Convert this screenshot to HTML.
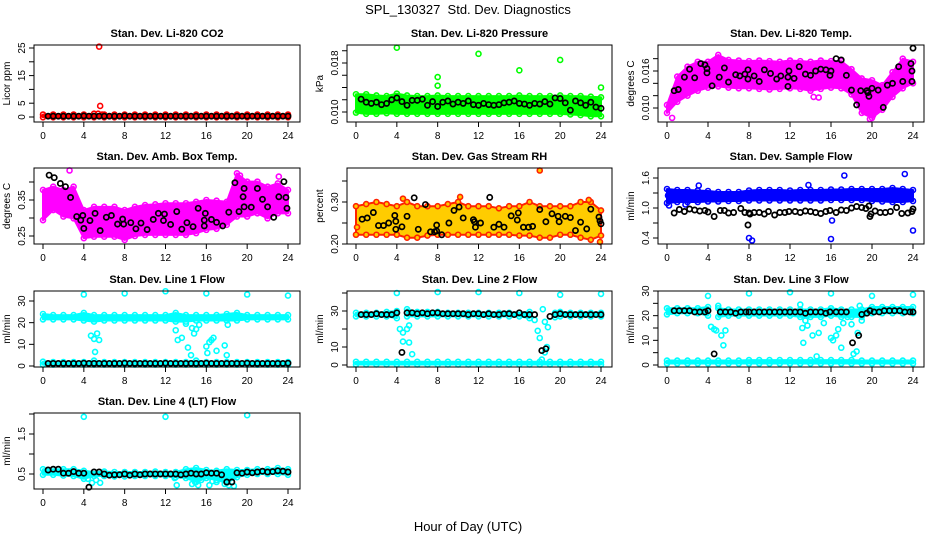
<!DOCTYPE html>
<html><head><meta charset="utf-8">
<style>
html,body{margin:0;padding:0;background:#fff;}
svg{display:block;font-family:"Liberation Sans",Arial,sans-serif;}
</style></head>
<body>
<svg id="chart" width="936" height="540" viewBox="0 0 936 540" xmlns="http://www.w3.org/2000/svg">
<rect width="936" height="540" fill="#fff"/>
<text x="468" y="14" font-size="13" text-anchor="middle" style="white-space:pre">SPL_130327  Std. Dev. Diagnostics</text>
<text x="468" y="531" font-size="13" text-anchor="middle">Hour of Day (UTC)</text>
</svg>
<script>
// ---------- data ----------
const HOURS=[0,1,2,3,4,5,6,7,8,9,10,11,12,13,14,15,16,17,18,19,20,21,22,23,24];
const HH=[0.5,1,1.5,2,2.5,3,3.5,4,4.5,5,5.5,6,6.5,7,7.5,8,8.5,9,9.5,10,10.5,11,11.5,12,12.5,13,13.5,14,14.5,15,15.5,16,16.5,17,17.5,18,18.5,19,19.5,20,20.5,21,21.5,22,22.5,23,23.5,24];

// CO2
const co2Hi=[0.9,0.9,0.9,0.9,0.9,1.2,0.9,0.9,0.9,0.9,0.9,0.9,0.9,0.9,0.9,0.9,0.9,0.9,0.9,0.9,0.9,0.9,0.9,0.9,0.9];
const co2Lo=[-0.1,-0.1,-0.1,-0.1,-0.1,-0.1,-0.1,-0.1,-0.1,-0.1,-0.1,-0.1,-0.1,-0.1,-0.1,-0.1,-0.1,-0.1,-0.1,-0.1,-0.1,-0.1,-0.1,-0.1,-0.1];
const co2OutX=[5.5,5.6,5.4,5.8];
const co2OutY=[25.5,4,1.2,0.9];
const co2Black=[0.3,0.3,0.3,0.3,0.3,0.3,0.3,0.4,0.3,0.3,0.3,0.3,0.3,0.3,0.3,0.4,0.3,0.3,0.3,0.3,0.3,0.3,0.3,0.3,0.3,0.3,0.3,0.3,0.3,0.3,0.3,0.3,0.3,0.3,0.3,0.3,0.3,0.3,0.3,0.3,0.3,0.3,0.3,0.3,0.3,0.3,0.3,0.3];

// Pressure
const prHi=[0.0129,0.0129,0.0127,0.0126,0.0130,0.0127,0.0126,0.0126,0.0127,0.0126,0.0126,0.0126,0.0126,0.0126,0.0126,0.0126,0.0127,0.0126,0.0126,0.0126,0.0127,0.0126,0.0126,0.0125,0.0124];
const prLo=[0.0099,0.0097,0.0097,0.0098,0.0097,0.0097,0.0097,0.0097,0.0097,0.0097,0.0097,0.0097,0.0097,0.0097,0.0097,0.0097,0.0097,0.0097,0.0097,0.0097,0.0097,0.0096,0.0095,0.0093,0.0093];
const prOutX=[4,8,8,12,16,20,24];
const prOutY=[0.0205,0.0157,0.0143,0.0195,0.0168,0.0185,0.0140];
const prBlack=[0.0121,0.0116,0.0114,0.0116,0.0112,0.0114,0.0120,0.0123,0.0117,0.0111,0.0119,0.0119,0.0121,0.0111,0.0117,0.0109,0.0116,0.0118,0.0113,0.0116,0.0114,0.0118,0.0112,0.0111,0.0114,0.0112,0.0111,0.0112,0.0115,0.0116,0.0118,0.0114,0.0113,0.0111,0.0114,0.0113,0.0117,0.0113,0.0123,0.0122,0.0115,0.0103,0.0118,0.0115,0.0111,0.0116,0.0108,0.0106];

// Li-820 temp
const tHi=[0.0105,0.0151,0.0167,0.0175,0.0175,0.0186,0.0178,0.0177,0.0176,0.0177,0.0176,0.0175,0.0177,0.0176,0.0175,0.0177,0.0176,0.0176,0.0163,0.0148,0.0145,0.0137,0.0158,0.0180,0.0175];
const tLo=[0.0092,0.0110,0.0120,0.0128,0.0133,0.0135,0.0133,0.0132,0.0132,0.0131,0.0130,0.0131,0.0132,0.0131,0.0128,0.0131,0.0133,0.0132,0.0122,0.0092,0.0084,0.0097,0.0118,0.0132,0.0140];
const tBlackX=[0.7,1.1,1.7,2.2,2.7,3.3,3.7,3.9,3.9,4.4,5.1,5.6,6.0,6.7,7.1,7.6,7.9,7.9,8.5,9.0,9.5,10.1,10.7,11.1,11.8,11.9,11.8,12.4,12.9,13.5,14.0,14.5,15.0,15.5,15.9,16.0,16.5,17.0,17.5,18.0,18.5,18.9,19.5,19.6,19.7,20.0,20.6,21.1,21.5,22.0,22.6,23.0,23.8,23.9,23.9,24.0];
const tBlackY=[0.0128,0.0130,0.0150,0.0163,0.0149,0.0172,0.0170,0.0164,0.0157,0.0136,0.0150,0.0165,0.0142,0.0154,0.0152,0.0155,0.0162,0.0147,0.0152,0.0143,0.0162,0.0156,0.0147,0.0152,0.0150,0.0160,0.0135,0.0148,0.0167,0.0155,0.0153,0.0160,0.0163,0.0162,0.0153,0.0160,0.0180,0.0178,0.0153,0.0129,0.0105,0.0128,0.0128,0.0125,0.0119,0.0132,0.0129,0.0101,0.0137,0.0140,0.0167,0.0143,0.0172,0.0160,0.0143,0.0197];
const tOutX=[0.5,19.8,20.1,14.3,14.8];
const tOutY=[0.0084,0.0082,0.0088,0.0118,0.0117];

// Amb box temp
const aHi=[0.378,0.387,0.378,0.387,0.322,0.331,0.331,0.331,0.322,0.331,0.336,0.338,0.341,0.341,0.341,0.345,0.350,0.348,0.345,0.424,0.401,0.401,0.387,0.396,0.378];
const aLo=[0.294,0.322,0.304,0.299,0.244,0.248,0.248,0.248,0.239,0.250,0.253,0.253,0.253,0.253,0.253,0.258,0.267,0.270,0.281,0.304,0.304,0.313,0.299,0.313,0.313];
const aOutX=[2.6,19.3,23.1];
const aOutY=[0.432,0.418,0.415];
const aBlackX=[0.6,1.1,1.7,2.2,2.7,3.3,3.7,3.9,4.0,4.6,5.1,5.6,6.2,6.7,7.3,7.8,7.9,8.6,9.1,9.6,10.2,10.8,11.3,11.8,11.9,12.5,13.1,13.6,14.1,14.7,15.2,15.8,15.8,15.9,16.5,17.0,17.6,18.2,18.8,19.2,19.6,19.7,19.7,20.4,21.0,21.5,22.0,22.6,23.1,23.6,23.8,23.9];
const aBlackY=[0.419,0.412,0.396,0.387,0.357,0.304,0.294,0.307,0.271,0.293,0.313,0.265,0.302,0.307,0.283,0.297,0.283,0.287,0.270,0.286,0.268,0.296,0.313,0.293,0.311,0.282,0.318,0.269,0.287,0.276,0.327,0.278,0.294,0.313,0.296,0.288,0.278,0.316,0.398,0.318,0.359,0.382,0.331,0.330,0.382,0.352,0.331,0.302,0.359,0.401,0.357,0.327];

// Gas stream RH
const rhHi=[0.29,0.295,0.30,0.295,0.29,0.30,0.29,0.29,0.29,0.295,0.30,0.29,0.29,0.29,0.285,0.29,0.29,0.30,0.29,0.29,0.29,0.29,0.30,0.30,0.28];
const rhLo=[0.222,0.222,0.222,0.222,0.222,0.215,0.215,0.22,0.222,0.222,0.222,0.222,0.222,0.222,0.222,0.222,0.22,0.22,0.215,0.215,0.222,0.222,0.215,0.21,0.22];
const rhOutX=[18,4.6,10.2,22.8,23.9,0.1];
const rhOutY=[0.375,0.308,0.312,0.305,0.205,0.24];
const rhBlackX=[0.6,1.1,1.7,2.2,2.7,3.2,3.8,3.9,3.9,4.5,5.0,5.7,6.1,6.8,7.3,7.7,7.9,7.9,8.4,9.1,9.6,10.1,10.5,11.5,11.6,11.7,12.2,13.1,13.5,14.0,14.5,15.2,15.8,15.9,16.4,16.9,17.3,18.0,18.6,19.2,19.8,19.9,20.5,21.0,21.5,22.0,22.6,23.0,23.8,23.9,24.0];
const rhBlackY=[0.259,0.262,0.275,0.244,0.244,0.250,0.268,0.254,0.235,0.241,0.266,0.310,0.235,0.294,0.229,0.229,0.245,0.231,0.222,0.250,0.280,0.288,0.262,0.258,0.253,0.240,0.250,0.311,0.240,0.247,0.240,0.267,0.257,0.274,0.240,0.240,0.242,0.282,0.253,0.272,0.266,0.253,0.266,0.263,0.232,0.252,0.236,0.283,0.264,0.255,0.248];

// Sample flow
const sfHi=[1.38,1.36,1.36,1.35,1.34,1.32,1.32,1.32,1.35,1.36,1.36,1.36,1.35,1.36,1.36,1.36,1.37,1.37,1.38,1.38,1.38,1.38,1.40,1.38,1.36];
const sfLo=[1.10,1.12,1.12,1.12,1.13,1.13,1.14,1.14,1.15,1.15,1.15,1.15,1.15,1.15,1.15,1.15,1.16,1.16,1.16,1.16,1.14,1.13,1.12,1.12,1.14];
const sfOutX=[0.1,0.2,8.0,8.3,13.8,16.0,16.1,17.3,23.2,24.0,3.1,1.8];
const sfOutY=[1.25,1.05,0.40,0.35,1.46,0.38,0.75,1.65,1.68,0.55,1.45,1.07];
const sfBlackX=[0.7,1.2,1.7,2.2,2.7,3.2,3.7,4.0,4.6,5.2,5.6,6.0,6.5,7.2,7.6,7.9,8.0,8.1,8.5,9.0,9.5,9.9,10.5,11.0,11.5,11.9,12.5,13.0,13.5,14.0,14.5,15.0,15.5,15.9,16.5,17.0,17.5,18.0,18.5,19.0,19.4,19.7,19.8,19.9,20.3,20.8,21.3,21.8,22.4,22.9,23.5,23.9,24.0];
const sfBlackY=[0.90,0.97,0.93,0.98,0.96,0.94,0.95,0.92,0.83,0.95,0.95,0.90,0.91,0.99,0.91,0.66,0.90,0.88,0.91,0.91,0.88,0.93,0.86,0.91,0.91,0.93,0.93,0.91,0.94,0.93,0.91,0.89,0.93,0.95,0.91,0.96,0.95,1.00,1.03,1.01,0.99,1.04,0.83,0.88,0.94,0.91,0.91,0.93,1.01,0.89,0.90,0.93,0.98];

// Line 1 flow
const l1UpHi=[24,23.5,23.5,23.5,24.5,23.5,23.5,23.5,23.5,23.5,23.5,23.5,23.5,24.5,23.5,23.5,23.5,23.5,24,24.5,23.5,23.5,23.5,23.5,23.5];
const l1UpLo=[21.5,21.5,21.5,21.5,21,20.5,21,21,21,21,21,21,21,20.5,20.5,21,21,21,21,21,21.5,21.5,21.5,21.5,21.5];
const l1DnHi=[2,1.8,1.8,1.8,1.8,2.5,1.8,1.8,1.8,1.8,1.8,1.8,1.8,1.8,1.8,2.5,1.8,1.8,1.8,1.8,1.8,1.8,1.8,1.8,1.8];
const l1DnLo=[0.6,0.6,0.6,0.6,0.6,0.6,0.6,0.6,0.6,0.6,0.6,0.6,0.6,0.6,0.6,0.6,0.6,0.6,0.6,0.6,0.6,0.6,0.6,0.6,0.6];
const l1OutX=[4,8,12,16,20,24,4.7,5.0,5.1,5.3,5.5,13.0,13.2,13.6,14.0,14.2,14.5,14.6,14.8,15.0,15.3,16.0,16.1,16.3,16.5,16.7,17.0,17.8,18.0,18.1];
const l1OutY=[33,33.5,34.5,33.5,33,32.5,14,12.5,6.5,15,12,16.5,12,13,19.5,8.5,5,17.5,15,17,19,9,6,11,12,13,7,9.5,5,19];
const l1Black=[1.2,1.2,1.2,1.2,1.2,1.2,1.2,1.3,1.2,1.2,1.2,1.2,1.2,1.2,1.2,1.3,1.2,1.2,1.2,1.2,1.2,1.2,1.2,1.3,1.2,1.2,1.2,1.2,1.2,1.2,1.2,1.3,1.2,1.2,1.2,1.2,1.2,1.2,1.2,1.3,1.2,1.2,1.2,1.2,1.2,1.2,1.2,1.3];

// Line 2 flow
const l2aX=[0,1,2,3,4];
const l2aHi=[29,29,29,29.5,30];
const l2aLo=[27,27,27,27,26];
const l2bX=[5,6,7,8,9,10,11,12,13,14,15,16,17];
const l2bHi=[31,29.5,29.5,29.5,29,29,29,29,29,29,29,29,29.5];
const l2bLo=[27,27,27,27,27,27,27,27,27,27,27,27,26];
const l2cX=[19.5,20,21,22,23,24];
const l2cHi=[29,29.5,29,29,29,29];
const l2cLo=[26.5,27,27,27,27,27];
const l2DnHi=[1.8,1.8,1.8,1.8,1.8,1.8,1.8,1.8,1.8,1.8,1.8,1.8,1.8,1.8,1.8,1.8,1.8,1.8,1.8,1.8,1.8,1.8,1.8,1.8,1.8];
const l2DnLo=[0.3,0.3,0.3,0.3,0.3,0.3,0.3,0.3,0.3,0.3,0.3,0.3,0.3,0.3,0.3,0.3,0.3,0.3,0.3,0.3,0.3,0.3,0.3,0.3,0.3];
const l2OutX=[4,8,12,16,20,24,4.3,4.6,5.0,5.2,4.6,5.2,5.5,17.5,17.8,18.0,18.2,18.3,18.5,18.7,18.5,18.8];
const l2OutY=[40,40.5,40.5,40,39,39.5,20,18,20,22,13,12.5,6,25,19,15,3,31,24,10,7,21];
const l2BlackX=[0.5,1,1.5,2,2.5,3,3.5,4,4.5,5,5.5,6,6.5,7,7.5,8,8.5,9,9.5,10,10.5,11,11.5,12,12.5,13,13.5,14,14.5,15,15.5,16,16.5,17,17.5,18.2,18.6,19,19.5,20,20.5,21,21.5,22,22.5,23,23.5,24];
const l2BlackY=[28,28,28,28.5,28,28,28,29,7,29,29,28.5,29,28.5,29,29,28.5,28.5,28.5,28.5,28.5,28,28.5,28.5,28,28.5,28,28,28.5,28.5,28,29,28,28,28,8,9,27,28,28.5,28,28,28,28,28,28,28,28];

// Line 3 flow
const l3aX=[0,1,2,3,4];
const l3aHi=[23,23,23,23,23.5];
const l3aLo=[20.5,21,21,21,20];
const l3bX=[5,6,7,8,9,10,11,12,13,14,15,16,17,18,19,20,21,22,23,24];
const l3bHi=[23,22.5,22.5,22.5,22.5,22.5,22.5,22.5,22.5,22.5,22.5,23,22.5,22.5,22.5,23.5,23.5,23.5,23.5,23.5];
const l3bLo=[19.5,20,20,20,20,20,20,20,19.5,19.5,19.5,20,19.5,19.5,19.5,21,21,21,21,21];
const l3DnHi=[1.8,1.8,1.8,1.8,1.8,1.8,1.8,1.8,2,2,2,2,2,2,2,2,2,2,2,1.8,1.8,1.8,1.8,1.8,1.8];
const l3DnLo=[0.6,0.6,0.6,0.6,0.6,0.6,0.6,0.6,0.6,0.6,0.6,0.6,0.6,0.6,0.6,0.6,0.6,0.6,0.6,0.6,0.6,0.6,0.6,0.6,0.6];
const l3OutX=[4,8,12,16,20,24,4.3,4.6,4.8,5.0,5.3,5.5,5.7,13,13.2,13.3,13.5,13.7,14.2,14.6,14.8,15.3,16,16.2,16.5,16.7,17,17.2,17.6,18,18.2,18.5,18.6,18.8,19];
const l3OutY=[28,29,29.5,29,28,28.5,15.5,14.5,14,24,12,8,14,24.5,15,9,18,16,12,3.5,13,17,11,10,12,14.5,7,17,19.5,16.5,4.5,5.5,13,24,18];
const l3BlackX=[0.7,1.2,1.7,2.2,2.7,3.2,3.7,4.0,4.6,5.2,5.7,6.2,6.7,7.2,7.7,8.0,8.5,9.0,9.5,10,10.5,11,11.5,12,12.5,13,13.5,14,14.5,15,15.5,15.9,16.5,17,17.5,18.1,18.7,19,19.5,19.8,20.2,20.7,21.2,21.7,22.2,22.7,23.2,23.7,24];
const l3BlackY=[22,22,22,22,21.5,21.5,21.5,22,4.5,21.5,21.5,21.5,21,21.5,21.5,21.5,21.5,21.5,21.5,21.5,21.5,21.5,21.5,21.5,21.5,21.5,21,21.5,21.5,21.5,21,21.5,21.5,21.5,21.5,9,12,20.5,21,22,21.5,21.5,22,22,22,22,21.5,21.5,21.5];

// Line 4 flow
const l4Hi=[0.62,0.62,0.62,0.62,0.58,0.55,0.56,0.55,0.55,0.55,0.55,0.56,0.55,0.55,0.62,0.65,0.60,0.58,0.62,0.60,0.60,0.62,0.62,0.65,0.62];
const l4Lo=[0.48,0.48,0.46,0.45,0.38,0.45,0.45,0.44,0.44,0.45,0.45,0.45,0.45,0.42,0.40,0.30,0.40,0.35,0.28,0.42,0.48,0.50,0.50,0.50,0.48];
const l4OutX=[4,12,20,4.4,4.8,5.2,5.6,13.1,14.6,14.9,15.2,15.5,16.3,16.6,17.0,17.8,18.2,18.7,12.9];
const l4OutY=[1.93,1.93,1.97,0.38,0.28,0.35,0.28,0.22,0.25,0.30,0.22,0.35,0.22,0.32,0.30,0.25,0.22,0.20,0.40];
const l4Black=[0.60,0.62,0.62,0.52,0.52,0.56,0.52,0.52,0.17,0.55,0.55,0.50,0.47,0.48,0.48,0.50,0.47,0.50,0.48,0.50,0.50,0.50,0.50,0.50,0.50,0.50,0.48,0.50,0.52,0.50,0.50,0.53,0.52,0.52,0.48,0.30,0.30,0.53,0.52,0.55,0.53,0.55,0.57,0.55,0.56,0.58,0.57,0.55];

// ---------- rendering ----------
const NS="http://www.w3.org/2000/svg";
const svg=document.getElementById('chart');
function mk(tag,attrs,parent){const e=document.createElementNS(NS,tag);for(const k in attrs)e.setAttribute(k,attrs[k]);(parent||svg).appendChild(e);return e;}

const COLS=[{l:34,r:300,p0:43,p24:288},{l:347,r:612,p0:356,p24:601},{l:658,r:924,p0:667,p24:913}];
const ROWS=[{t:45,b:122},{t:168,b:244},{t:291,b:367},{t:413,b:489}];

const panels=[
 {key:'co2',col:0,row:0,title:'Stan. Dev. Li-820 CO2',ylab:'Licor ppm',vA:0,pA:117,vB:25,pB:48,ticks:[0,5,10,15,20,25],labels:[[0,'0'],[5,'5'],[15,'15'],[25,'25']],color:'#ff0000',
  bands:[{x:HOURS,hi:co2Hi,lo:co2Lo}],outX:co2OutX,outY:co2OutY,bx:HH,by:co2Black},
 {key:'pressure',col:1,row:0,title:'Stan. Dev. Li-820 Pressure',ylab:'kPa',vA:0.010,pA:112,vB:0.018,pB:63,ticks:[0.010,0.012,0.014,0.016,0.018,0.020],labels:[[0.010,'0.010'],[0.018,'0.018']],color:'#00ff00',
  bands:[{x:HOURS,hi:prHi,lo:prLo}],outX:prOutX,outY:prOutY,bx:HH,by:prBlack},
 {key:'li820-temp',col:2,row:0,title:'Stan. Dev. Li-820 Temp.',ylab:'degrees C',vA:0.010,pA:108,vB:0.016,pB:71,ticks:[0.010,0.012,0.014,0.016,0.018],labels:[[0.010,'0.010'],[0.016,'0.016']],color:'#ff00ff',
  bands:[{x:HOURS,hi:tHi,lo:tLo}],outX:tOutX,outY:tOutY,bx:tBlackX,by:tBlackY},
 {key:'amb-box-temp',col:0,row:1,title:'Stan. Dev. Amb. Box Temp.',ylab:'degrees C',vA:0.25,pA:236,vB:0.35,pB:200,ticks:[0.25,0.30,0.35,0.40],labels:[[0.25,'0.25'],[0.35,'0.35']],color:'#ff00ff',
  bands:[{x:HOURS,hi:aHi,lo:aLo}],outX:aOutX,outY:aOutY,bx:aBlackX,by:aBlackY},
 {key:'gas-rh',col:1,row:1,title:'Stan. Dev. Gas Stream RH',ylab:'percent',vA:0.20,pA:244,vB:0.30,pB:202,ticks:[0.20,0.25,0.30,0.35],labels:[[0.20,'0.20'],[0.30,'0.30']],color:'#ff2200',fill:'#ffcc00',
  bands:[{x:HOURS,hi:rhHi,lo:rhLo}],outX:rhOutX,outY:rhOutY,bx:rhBlackX,by:rhBlackY},
 {key:'sample-flow',col:2,row:1,title:'Stan. Dev. Sample Flow',ylab:'ml/min',vA:1.0,pA:208,vB:1.6,pB:178,ticks:[0.4,0.7,1.0,1.3,1.6],labels:[[0.4,'0.4'],[1.0,'1.0'],[1.6,'1.6']],color:'#0000ff',
  bands:[{x:HOURS,hi:sfHi,lo:sfLo}],outX:sfOutX,outY:sfOutY,bx:sfBlackX,by:sfBlackY},
 {key:'line1-flow',col:0,row:2,title:'Stan. Dev. Line 1 Flow',ylab:'ml/min',vA:0,pA:366,vB:30,pB:301,ticks:[0,10,20,30],labels:[[0,'0'],[10,'10'],[20,'20'],[30,'30']],color:'#00ffff',
  bands:[{x:HOURS,hi:l1UpHi,lo:l1UpLo},{x:HOURS,hi:l1DnHi,lo:l1DnLo}],outX:l1OutX,outY:l1OutY,bx:HH,by:l1Black},
 {key:'line2-flow',col:1,row:2,title:'Stan. Dev. Line 2 Flow',ylab:'ml/min',vA:0,pA:365,vB:30,pB:311,ticks:[0,10,20,30,40],labels:[[0,'0'],[10,'10'],[30,'30']],color:'#00ffff',
  bands:[{x:l2aX,hi:l2aHi,lo:l2aLo},{x:l2bX,hi:l2bHi,lo:l2bLo},{x:l2cX,hi:l2cHi,lo:l2cLo},{x:HOURS,hi:l2DnHi,lo:l2DnLo}],outX:l2OutX,outY:l2OutY,bx:l2BlackX,by:l2BlackY},
 {key:'line3-flow',col:2,row:2,title:'Stan. Dev. Line 3 Flow',ylab:'ml/min',vA:0,pA:365,vB:30,pB:291,ticks:[0,5,10,15,20,25,30],labels:[[0,'0'],[10,'10'],[20,'20'],[30,'30']],color:'#00ffff',
  bands:[{x:l3aX,hi:l3aHi,lo:l3aLo},{x:l3bX,hi:l3bHi,lo:l3bLo},{x:HOURS,hi:l3DnHi,lo:l3DnLo}],outX:l3OutX,outY:l3OutY,bx:l3BlackX,by:l3BlackY},
 {key:'line4-flow',col:0,row:3,title:'Stan. Dev. Line 4 (LT) Flow',ylab:'ml/min',vA:0.5,pA:474,vB:1.5,pB:434,ticks:[0.5,1.0,1.5,2.0],labels:[[0.5,'0.5'],[1.5,'1.5']],color:'#00ffff',
  bands:[{x:HOURS,hi:l4Hi,lo:l4Lo}],outX:l4OutX,outY:l4OutY,bx:HH,by:l4Black}
];

panels.forEach(p=>{
  const C=COLS[p.col],R=ROWS[p.row];
  const sx=v=>C.p0+v/24*(C.p24-C.p0);
  const sy=v=>p.pA+(v-p.vA)*(p.pB-p.pA)/(p.vB-p.vA);
  const g=mk('g',{});
  
  
  const cx=(C.l+C.r)/2;
  const t=mk('text',{x:cx,y:R.t-8,'font-size':11,'font-weight':'bold','text-anchor':'middle'},g);
  t.textContent=p.title;
  
  
  const dg=mk('g',{},g);
  
  
  const fillC=p.fill||p.color;
  p.bands.forEach(b=>{
    const pts=[];
    b.x.forEach((x,i)=>pts.push(sx(x)+','+sy(b.hi[i])));
    for(let i=b.x.length-1;i>=0;i--)pts.push(sx(b.x[i])+','+sy(b.lo[i]));
    const poly=mk('polygon',{points:pts.join(' '),fill:fillC,stroke:p.color,'stroke-width':2,'stroke-linejoin':'round'},dg);
    
    
    b.x.forEach((x,i)=>{
      [b.hi[i],b.lo[i]].forEach(v=>{
        const c=mk('circle',{cx:sx(x),cy:sy(v),r:2.5,fill:p.fill||'none',stroke:p.color,'stroke-width':1.6},dg);
        
        
      });
    });
  });
  p.outX.forEach((x,i)=>{
    const c=mk('circle',{cx:sx(x),cy:sy(p.outY[i]),r:2.5,fill:p.fill||'none',stroke:p.color,'stroke-width':1.6},dg);
    
    
  });
  p.bx.forEach((x,i)=>{
    const c=mk('circle',{cx:sx(x),cy:sy(p.by[i]),r:2.6,fill:'none',stroke:'#000','stroke-width':1.7},dg);
    
    
  });
  const box=mk('rect',{x:C.l,y:R.t,width:C.r-C.l,height:R.b-R.t,fill:'none',stroke:'#000','stroke-width':1},g);
  
  
  const xa=mk('g',{},g);
  
  
  mk('line',{x1:sx(0),x2:sx(24),y1:R.b,y2:R.b,stroke:'#000'},xa);
  [0,4,8,12,16,20,24].forEach(v=>{
    mk('line',{x1:sx(v),x2:sx(v),y1:R.b,y2:R.b+5,stroke:'#000'},xa);
    const tl=mk('text',{x:sx(v),y:R.b+17,'font-size':10,'text-anchor':'middle'},xa);
    tl.textContent=v;
    
    
  });
  const ya=mk('g',{},g);
  
  
  const vis=p.ticks.filter(v=>sy(v)>=R.t-1&&sy(v)<=R.b+1);
  mk('line',{x1:C.l,x2:C.l,y1:sy(vis[0]),y2:sy(vis[vis.length-1]),stroke:'#000'},ya);
  vis.forEach(v=>mk('line',{x1:C.l-5,x2:C.l,y1:sy(v),y2:sy(v),stroke:'#000'},ya));
  p.labels.forEach(([v,s])=>{
    const tx=C.l-9,ty=sy(v);
    const tl=mk('text',{x:tx,y:ty,'font-size':10,'text-anchor':'middle',transform:`rotate(-90 ${tx} ${ty})`},ya);
    tl.textContent=s;
    
    
  });
  const lx=C.l-24,ly=(R.t+R.b)/2;
  const yl=mk('text',{x:lx,y:ly,'font-size':10,'text-anchor':'middle',transform:`rotate(-90 ${lx} ${ly})`},ya);
  yl.textContent=p.ylab;
  
  
});
</script>
</body></html>
